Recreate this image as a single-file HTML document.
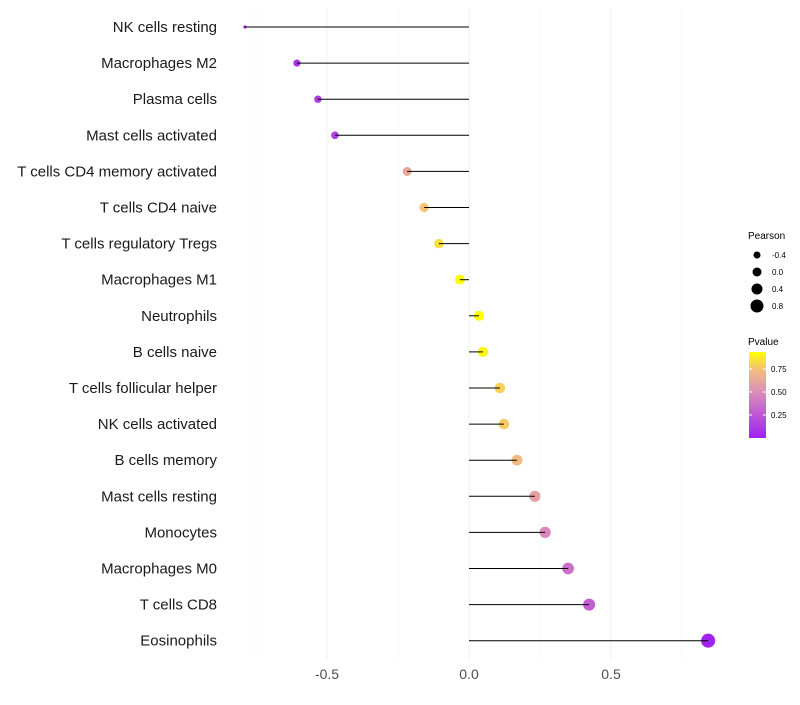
<!DOCTYPE html>
<html><head><meta charset="utf-8"><style>
body{margin:0;background:#fff;font-family:"Liberation Sans",sans-serif}
</style></head><body>
<svg id="c" width="800" height="700" xmlns="http://www.w3.org/2000/svg">
<defs><linearGradient id="pg" x1="0" y1="1" x2="0" y2="0">
<stop offset="0" stop-color="#a020f0"/><stop offset="0.54" stop-color="#dc8fb8"/><stop offset="0.8" stop-color="#f3c07a"/><stop offset="1" stop-color="#ffff00"/>
</linearGradient></defs>
</svg>
<script>
const categories=["NK cells resting","Macrophages M2","Plasma cells","Mast cells activated","T cells CD4 memory activated","T cells CD4 naive","T cells regulatory  Tregs ","Macrophages M1","Neutrophils","B cells naive","T cells follicular helper","NK cells activated","B cells memory","Mast cells resting","Monocytes","Macrophages M0","T cells CD8","Eosinophils"];
const pearson=[-0.789,-0.606,-0.532,-0.472,-0.218,-0.158,-0.106,-0.032,0.035,0.049,0.109,0.123,0.169,0.232,0.268,0.349,0.423,0.842];
const pvalue=[0.02,0.08,0.12,0.15,0.62,0.76,0.84,0.93,0.93,0.9,0.8,0.78,0.72,0.58,0.47,0.36,0.28,0.01];
const xTicks=[-0.5,0,0.5];
const xTickLabels=["-0.5","0.0","0.5"];
const gridMinor=[-0.75,-0.25,0.25,0.75];
const legendSizes=[-0.4,0,0.4,0.8];
const NS="http://www.w3.org/2000/svg";
const svg=document.getElementById('c');
const x=v=>469+v*284;
const y=i=>27+i*36.1;
function mk(t,a){const e=document.createElementNS(NS,t);for(const k in a)e.setAttribute(k,a[k]);svg.appendChild(e);return e;}
function col(p){
  const stops=[[0,[160,32,240]],[0.5,[220,143,184]],[0.75,[243,192,122]],[0.93,[255,255,0]]];
  p=Math.max(0,Math.min(0.93,p));
  for(let i=0;i<stops.length-1;i++){const [a,ca]=stops[i],[b,cb]=stops[i+1];
    if(p<=b){const t=(p-a)/(b-a);return 'rgb('+ca.map((c,j)=>Math.round(c+(cb[j]-c)*t)).join(',')+')';}}
  return 'rgb(255,255,0)';
}
const rad=v=>v<-0.7?1.6:Math.max(2,5+2.4*v);
gridMinor.forEach(g=>{const l=mk('line',{x1:x(g),x2:x(g),y1:8,y2:660,stroke:'#f5f5f5','stroke-width':0.6});

});
xTicks.forEach((g,i)=>{const l=mk('line',{x1:x(g),x2:x(g),y1:8,y2:660,stroke:'#f0f0f0','stroke-width':1});


const t=mk('text',{x:x(g),y:679,'text-anchor':'middle','font-size':14,fill:'#4d4d4d'});t.textContent=xTickLabels[i];

});
categories.forEach((c,i)=>{
const t=mk('text',{x:217,y:y(i)+5,'text-anchor':'end','font-size':15,fill:'#1a1a1a'});t.textContent=c;


const d=mk('circle',{cx:x(pearson[i]),cy:y(i),r:rad(pearson[i]),fill:col(pvalue[i])});


const s=mk('line',{x1:x(0),x2:x(pearson[i]),y1:y(i),y2:y(i),stroke:'#000','stroke-width':1});

});
let t=mk('text',{x:748,y:239,'font-size':10,fill:'#000'});t.textContent='Pearson';


legendSizes.forEach((v,i)=>{const cy=255+i*17;
const c=mk('circle',{cx:757,cy:cy,r:4.5+v*2.5,fill:'#000'});


const l=mk('text',{x:772,y:cy+3,'font-size':8,fill:'#000'});l.textContent=v.toFixed(1);

});
t=mk('text',{x:748,y:345,'font-size':10,fill:'#000'});t.textContent='Pvalue';


const r=mk('rect',{x:749,y:352,width:17,height:86,fill:'url(#pg)'});


[[0.75,369],[0.5,392],[0.25,415]].forEach(([v,yy])=>{
mk('line',{x1:749,x2:752,y1:yy,y2:yy,stroke:'#fff'});mk('line',{x1:763,x2:766,y1:yy,y2:yy,stroke:'#fff'});
const l=mk('text',{x:771,y:yy+3,'font-size':8,fill:'#000'});l.textContent=v.toFixed(2);

});
</script>
</body></html>
